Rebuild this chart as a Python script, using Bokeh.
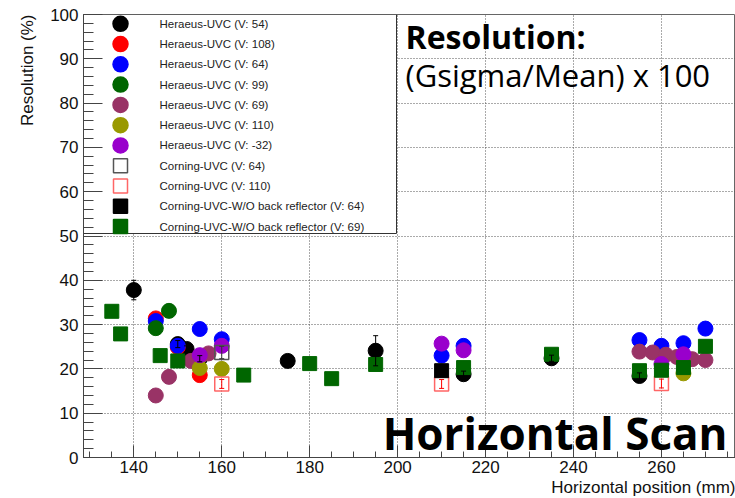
from bokeh.plotting import figure
from bokeh.models import (ColumnDataSource, Range1d, FixedTicker, Label, Whisker, TeeHead, Title)
from bokeh.core.properties import value
from bokeh.embed import file_html
from bokeh.resources import INLINE

# ---------------- data ----------------
x_ticks = [140, 160, 180, 200, 220, 240, 260]
x_minor = list(range(130, 276, 5))
y_ticks = [0, 10, 20, 30, 40, 50, 60, 70, 80, 90, 100]
y_minor = list(range(0, 101, 2))

her54_x = [140, 150, 152, 155, 175, 195, 215, 235, 255]
her54_y = [37.8, 25.6, 24.5, 22.3, 21.8, 24.1, 18.8, 22.4, 18.4]
her54_lo = [35.6, 24.8, 23.8, 21.6, 21.1, 20.7, 18.1, 21.7, 17.7]
her54_hi = [40.0, 26.4, 25.2, 23.0, 22.5, 27.5, 19.5, 23.1, 19.1]

her108_x = [145, 150, 155]
her108_y = [31.4, 24.9, 18.6]

her64_x = [145, 150, 155, 160, 210, 215, 255, 260, 265, 270]
her64_y = [30.8, 25.2, 29.0, 26.7, 23.0, 25.2, 26.5, 25.2, 25.8, 29.1]

her99_x = [145, 148]
her99_y = [29.2, 33.1]

her69_x = [145, 148, 153, 155, 157, 255, 258, 261, 263.5, 267, 270]
her69_y = [14.0, 18.2, 21.8, 22.7, 23.5, 23.9, 23.7, 23.2, 22.7, 22.2, 22.0]

her110_x = [155, 160, 265]
her110_y = [20.2, 20.0, 19.0]

herm32_x = [155, 160, 210, 215, 260, 265]
herm32_y = [23.1, 25.2, 25.7, 24.2, 21.1, 23.3]

cor64_x = [160]
cor64_y = [23.7]
cor64_lo = [22.3]
cor64_hi = [25.1]

cor110_x = [160, 210, 260]
cor110_y = [16.6, 16.6, 16.7]
cor110_lo = [15.6, 15.6, 15.7]
cor110_hi = [17.6, 17.6, 17.7]

wo64_x = [210]
wo64_y = [19.6]

wo69_x = [135, 137, 146, 150, 165, 180, 185, 195, 215, 235, 255, 260, 265, 270]
wo69_y = [33.0, 27.9, 23.0, 21.8, 18.6, 21.2, 17.8, 21.0, 20.3, 23.3, 19.6, 19.7, 20.3, 25.1]

labels = [
    "Heraeus-UVC (V: 54)", "Heraeus-UVC (V: 108)", "Heraeus-UVC (V: 64)",
    "Heraeus-UVC (V: 99)", "Heraeus-UVC (V: 69)", "Heraeus-UVC (V: 110)",
    "Heraeus-UVC (V: -32)", "Corning-UVC (V: 64)", "Corning-UVC (V: 110)",
    "Corning-UVC-W/O back reflector (V: 64)", "Corning-UVC-W/O back reflector (V: 69)",
]

# ---------------- styles ----------------
BLACK, RED, BLUE = "#000000", "#ff0000", "#0000ff"
GREEN, MAROON, OLIVE, PURPLE = "#006600", "#993366", "#999900", "#9900cc"
OPEN_BLACK, OPEN_RED = "#555555", "#ff6666"
leg_markers = ["circle"] * 7 + ["square"] * 4
leg_fill = [BLACK, RED, BLUE, GREEN, MAROON, OLIVE, PURPLE, "white", "white", BLACK, GREEN]
leg_fill_alpha = [1] * 7 + [0, 0, 1, 1]
leg_line = [BLACK, RED, BLUE, GREEN, MAROON, OLIVE, PURPLE, OPEN_BLACK, OPEN_RED, BLACK, GREEN]
leg_size = [15] * 7 + [14] * 4

TICK_FONT = "Liberation Sans"
W, H = 735, 498
FL, FT, FB = 83, 14, 41          # frame borders (px)
X0, X1 = 128.56, 276.84
Y0, Y1 = 0, 100

p = figure(width=W, height=H, output_backend="svg", toolbar_location=None,
           x_range=Range1d(X0, X1), y_range=Range1d(Y0, Y1),
           min_border_left=FL, min_border_right=0, min_border_top=FT, min_border_bottom=FB)
p.background_fill_color = "white"
p.border_fill_color = "white"
p.outline_line_color = "#666666"
p.outline_line_width = 1

# px -> data helpers for the hand-placed legend / texts
fw = W - FL
fh = H - FT - FB
def X(px):
    return X0 + (px - FL) * (X1 - X0) / fw
def Y(py):
    return Y0 + (FT + fh - py) * (Y1 - Y0) / fh

p.xaxis.ticker = FixedTicker(ticks=x_ticks, minor_ticks=x_minor)
p.yaxis.ticker = FixedTicker(ticks=y_ticks, minor_ticks=y_minor)
for ax in (p.xaxis[0], p.yaxis[0]):
    ax.axis_line_color = "#444444"
    ax.major_tick_line_color = "#444444"
    ax.minor_tick_line_color = "#444444"
    ax.major_tick_out = 0
    ax.minor_tick_out = 0
    ax.major_label_text_font = TICK_FONT
    ax.major_label_text_font_size = "17px"
    ax.major_label_text_color = "#111111"
p.yaxis.major_tick_in = 19
p.yaxis.minor_tick_in = 10
p.yaxis.major_label_standoff = 5
p.xaxis.major_tick_in = 12
p.xaxis.minor_tick_in = 6
p.xaxis.major_label_standoff = 3

# axis titles, right/top aligned as in ROOT
xt = Title(text="Horizontal position (mm)", align="right", standoff=0,
           text_font=TICK_FONT, text_font_size="17px", text_font_style="normal",
           text_color="#111111")
p.add_layout(xt, "below")
yt = Title(text="Resolution (%)", align="right", standoff=21,
           text_font=TICK_FONT, text_font_size="17px", text_font_style="normal",
           text_color="#111111")
p.add_layout(yt, "left")

p.xgrid.ticker = FixedTicker(ticks=x_ticks)
p.ygrid.ticker = FixedTicker(ticks=y_ticks)
p.grid.grid_line_color = "#555555"
p.grid.grid_line_dash = "1 2"
p.grid.grid_line_width = 1

# error bars
def whisk(xs, lo, hi, color):
    src = ColumnDataSource(dict(x=xs, lo=lo, hi=hi))
    w = Whisker(base="x", lower="lo", upper="hi", source=src, line_color=color, line_width=1,
                upper_head=TeeHead(size=5, line_color=color), lower_head=TeeHead(size=5, line_color=color),
                level="glyph")
    p.add_layout(w)

whisk(her54_x, her54_lo, her54_hi, BLACK)
p.scatter(her54_x, her54_y, marker="circle", size=15, color=BLACK)
p.scatter(her108_x, her108_y, marker="circle", size=15, color=RED)
p.scatter(her64_x, her64_y, marker="circle", size=15, color=BLUE)
p.scatter(her99_x, her99_y, marker="circle", size=15, color=GREEN)
p.scatter(her69_x, her69_y, marker="circle", size=15, color=MAROON)
p.scatter(her110_x, her110_y, marker="circle", size=15, color=OLIVE)
p.scatter(herm32_x, herm32_y, marker="circle", size=15, color=PURPLE)
whisk(cor64_x, cor64_lo, cor64_hi, "#333333")
p.scatter(cor64_x, cor64_y, marker="square", size=14, fill_color=None,
          line_color=OPEN_BLACK, line_width=1.5)
whisk(cor110_x, cor110_lo, cor110_hi, RED)
p.scatter(cor110_x, cor110_y, marker="square", size=14, fill_color=None,
          line_color=OPEN_RED, line_width=1.5)
p.scatter(wo64_x, wo64_y, marker="square", size=14, color=BLACK)
p.scatter(wo69_x, wo69_y, marker="square", size=14, color=GREEN)

# ---------------- legend box (ROOT-style TLegend) ----------------
p.quad(left=[X(FL)], right=[X(396)], bottom=[Y(233)], top=[Y(FT)],
       fill_color="white", line_color="#333333", line_width=1)
n = len(labels)
row_y = [Y(23.3 + 20.27 * i) for i in range(n)]
leg_src = ColumnDataSource(dict(x=[X(120)] * n, tx=[X(159)] * n, y=row_y, label=labels,
                                marker=leg_markers, fill=leg_fill, fa=leg_fill_alpha,
                                line=leg_line, size=leg_size))
p.scatter(x="x", y="y", marker="marker", size="size", fill_color="fill", fill_alpha="fa",
          line_color="line", line_width=1.5, source=leg_src)
p.text(x="tx", y="y", text="label", source=leg_src, text_font=value(TICK_FONT),
       text_font_size=value("11.5px"), text_color="#222222", text_baseline="middle")

# ---------------- texts ----------------
p.add_layout(Label(x=X(405), y=Y(36), text="Resolution:", text_font="Open Sans",
                   text_font_style="bold", text_font_size="32px", text_color="black",
                   text_baseline="alphabetic"))
p.add_layout(Label(x=X(405), y=Y(74), text="(Gsigma/Mean) x 100", text_font="Open Sans",
                   text_font_size="31px", text_color="black", text_baseline="alphabetic"))
p.add_layout(Label(x=X(727), y=Y(432), text="Horizontal Scan", text_font="Open Sans",
                   text_font_style="bold", text_font_size="44px", text_color="black",
                   text_align="right", text_baseline="alphabetic"))

open("out.html", "w").write(file_html(p, INLINE))
